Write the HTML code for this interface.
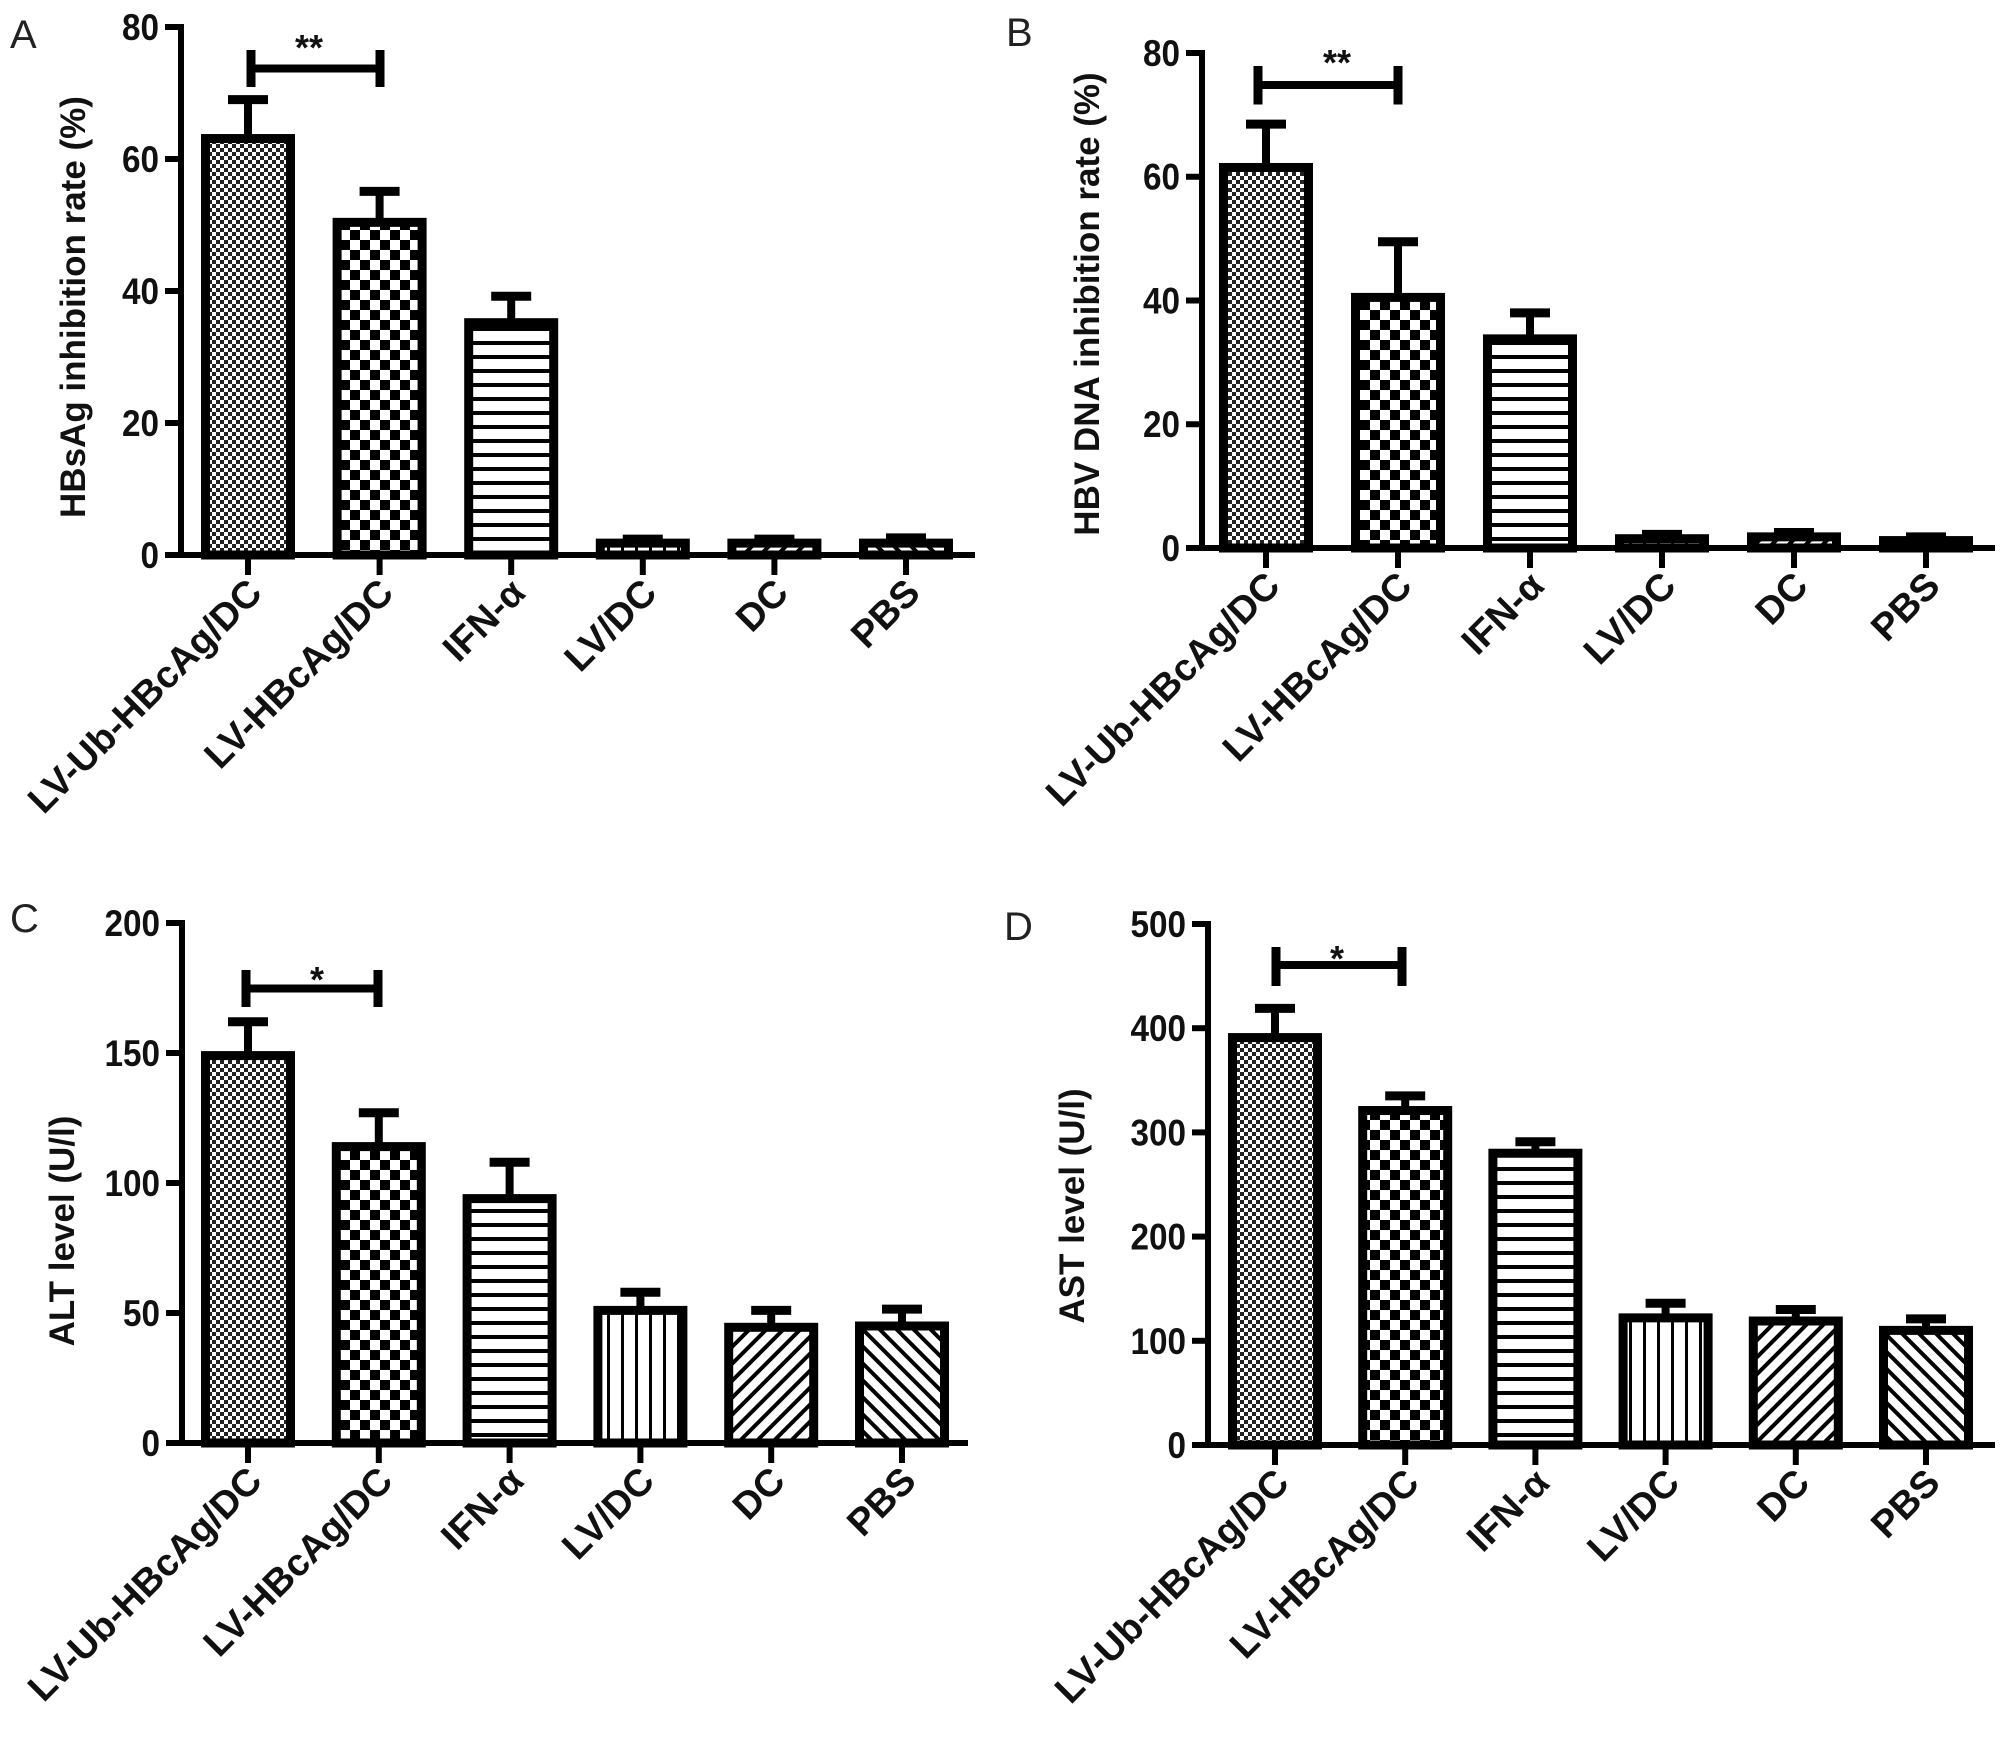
<!DOCTYPE html>
<html><head><meta charset="utf-8"><style>
html,body{margin:0;padding:0;background:#fff;}
svg{display:block;}
text{font-family:"Liberation Sans",sans-serif;}
</style></head><body>
<svg id="fig" width="2008" height="1745" viewBox="0 0 2008 1745" xmlns="http://www.w3.org/2000/svg">
<defs>
<pattern id="p-fine" width="8" height="8" patternUnits="userSpaceOnUse"><rect width="8" height="8" fill="#fff"/><rect width="4" height="4" fill="#222"/><rect x="4" y="4" width="4" height="4" fill="#222"/></pattern>
<pattern id="p-check" width="20" height="20" patternUnits="userSpaceOnUse"><rect width="20" height="20" fill="#fff"/><rect width="10" height="10" fill="#000"/><rect x="10" y="10" width="10" height="10" fill="#000"/></pattern>
<pattern id="p-h" width="14" height="14" patternUnits="userSpaceOnUse"><rect width="14" height="14" fill="#fff"/><rect y="5" width="14" height="4" fill="#000"/></pattern>
<pattern id="p-v" width="14" height="14" patternUnits="userSpaceOnUse"><rect width="14" height="14" fill="#fff"/><rect x="5" width="3" height="14" fill="#000"/></pattern>
<pattern id="p-d1" width="12" height="12" patternUnits="userSpaceOnUse" patternTransform="rotate(45)"><rect width="12" height="12" fill="#fff"/><rect x="4" width="4" height="12" fill="#000"/></pattern>
<pattern id="p-d2" width="12" height="12" patternUnits="userSpaceOnUse" patternTransform="rotate(-45)"><rect width="12" height="12" fill="#fff"/><rect x="4" width="4" height="12" fill="#000"/></pattern>
</defs>
</svg>
<script>
const categories = ["LV-Ub-HBcAg/DC","LV-HBcAg/DC","IFN-α","LV/DC","DC","PBS"];
const aValues = [63.1, 50.4, 35.2, 1.8, 1.8, 1.8];
const aErrors = [69.0, 55.1, 39.2, 2.4, 2.4, 2.6];
const aTicks = [0, 20, 40, 60, 80];
const bValues = [61.5, 40.5, 33.8, 1.5, 1.8, 1.2];
const bErrors = [68.5, 49.5, 38.0, 2.2, 2.5, 1.8];
const bTicks = [0, 20, 40, 60, 80];
const cValues = [149, 114, 94, 51, 44.5, 45];
const cErrors = [162, 127, 108, 58, 51, 51.5];
const cTicks = [0, 50, 100, 150, 200];
const dValues = [391, 321, 280, 122, 119, 110];
const dErrors = [419, 335, 291, 136, 130, 121];
const dTicks = [0, 100, 200, 300, 400, 500];

const NS = "http://www.w3.org/2000/svg";
const svg = document.getElementById('fig');
const fills = ["url(#p-fine)","url(#p-check)","url(#p-h)","url(#p-v)","url(#p-d1)","url(#p-d2)"];
function mk(tag, attrs, parent){const e=document.createElementNS(NS,tag);for(const k in attrs)e.setAttribute(k,attrs[k]);(parent||svg).appendChild(e);return e;}

const panels = [
 {id:'a',letter:'A',lx:10,ly:48,ax:181,y0:555,yTop:27,xEnd:975,x0:248,step:131.6,max:80,ticks:aTicks,vals:aValues,errs:aErrors,title:"HBsAg inhibition rate (%)",tx:72,ty:307,br:{x1:251,x2:380,y:68.5,y1:50,y2:87},star:"**",sx:309,sy:38},
 {id:'b',letter:'B',lx:1006,ly:46,ax:1202,y0:548,yTop:53,xEnd:1995,x0:1266,step:132,max:80,ticks:bTicks,vals:bValues,errs:bErrors,title:"HBV DNA inhibition rate (%)",tx:1086,ty:304,br:{x1:1258,x2:1398,y:85,y1:66,y2:104.5},star:"**",sx:1337,sy:53},
 {id:'c',letter:'C',lx:10,ly:932,ax:182,y0:1443,yTop:923,xEnd:968,x0:248,step:130.8,max:200,ticks:cTicks,vals:cValues,errs:cErrors,title:"ALT level (U/l)",tx:61,ty:1231,br:{x1:246,x2:378,y:988.5,y1:970,y2:1007},star:"*",sx:317,sy:970},
 {id:'d',letter:'D',lx:1004,ly:940,ax:1208,y0:1445,yTop:924,xEnd:1995,x0:1275,step:130.2,max:500,ticks:dTicks,vals:dValues,errs:dErrors,title:"AST level (U/l)",tx:1071,ty:1206,br:{x1:1276,x2:1402,y:965,y1:947,y2:986},star:"*",sx:1337,sy:949}
];

panels.forEach(p=>{
  const g = mk('g',{});
  
  
  const yS = v => p.y0 - (v/p.max)*(p.y0-p.yTop);
  const xS = i => p.x0 + i*p.step;
  const L = mk('text',{x:p.lx,y:p.ly,'font-size':40,fill:'#222'},g); L.textContent=p.letter;
  
  
  p.vals.forEach((v,i)=>{
    const cx=xS(i), top=yS(v), et=yS(p.errs[i]);
    const eb = mk('g',{},g);
    
    
    mk('line',{x1:cx,x2:cx,y1:top,y2:et,stroke:'#000','stroke-width':8},eb);
    mk('line',{x1:cx-20,x2:cx+20,y1:et,y2:et,stroke:'#000','stroke-width':9},eb);
    const r = mk('rect',{x:cx-42.5,y:top,width:85,height:Math.max(p.y0-top,0.5),fill:fills[i],stroke:'#000','stroke-width':9},g);
    
    
    mk('line',{x1:cx,x2:cx,y1:p.y0,y2:p.y0+20,stroke:'#000','stroke-width':6},g);
    const t = mk('text',{x:0,y:0,'font-size':38,'font-weight':'bold','text-anchor':'end',fill:'#111',transform:`translate(${cx+16},${p.y0+40}) rotate(-45)`},g);
    t.textContent=categories[i];
    
    
  });
  const ya = mk('line',{x1:p.ax,x2:p.ax,y1:p.yTop-3,y2:p.y0+3,stroke:'#000','stroke-width':6},g);
  
  
  const xa = mk('line',{x1:p.ax-3,x2:p.xEnd,y1:p.y0,y2:p.y0,stroke:'#000','stroke-width':6},g);
  
  
  p.ticks.forEach(tv=>{
    const y=yS(tv);
    mk('line',{x1:p.ax-16,x2:p.ax,y1:y,y2:y,stroke:'#000','stroke-width':6},g);
    const tl = mk('text',{x:p.ax-22,y:y+13,'font-size':37,'font-weight':'bold','text-anchor':'end',fill:'#111',transform:`translate(${(p.ax-22)*0.1},0) scale(0.9,1)`},g);
    tl.textContent=tv;
    
    
  });
  const ti = mk('text',{x:0,y:0,'font-size':35,'font-weight':'bold','text-anchor':'middle',fill:'#111',transform:`translate(${p.tx+13},${p.ty}) rotate(-90)`},g);
  ti.textContent=p.title;
  
  
  const bg = mk('g',{},g);
  
  
  mk('line',{x1:p.br.x1,x2:p.br.x2,y1:p.br.y,y2:p.br.y,stroke:'#000','stroke-width':8},bg);
  mk('line',{x1:p.br.x1,x2:p.br.x1,y1:p.br.y1,y2:p.br.y2,stroke:'#000','stroke-width':9},bg);
  mk('line',{x1:p.br.x2,x2:p.br.x2,y1:p.br.y1,y2:p.br.y2,stroke:'#000','stroke-width':9},bg);
  const st = mk('text',{x:p.sx,y:p.sy+22,'font-size':36,'font-weight':'bold','text-anchor':'middle',fill:'#111'},bg);
  st.textContent=p.star;
  
  
});
</script>
</body></html>
